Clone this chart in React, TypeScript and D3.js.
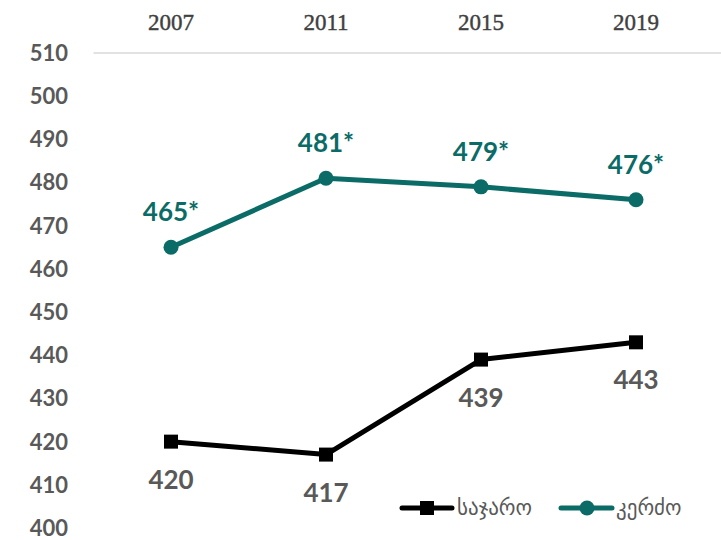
import React from "react";
import * as d3 from "d3";

const years = ["2007", "2011", "2015", "2019"];
const publicScores = [420, 417, 439, 443];
const privateScores = [465, 481, 479, 476];
const privateLabels = ["465*", "481*", "479*", "476*"];
const publicLabels = ["420", "417", "439", "443"];
const yTicks = [400, 410, 420, 430, 440, 450, 460, 470, 480, 490, 500, 510];
const seriesNames = ["საჯარო", "კერძო"];

const W = 721, H = 540;
const TEAL = "#0b6b67";
const GREY = "#595959";

export default function App() {
  const x = d3.scaleBand<string>().domain(years).range([93.5, 713.5]);
  const y = d3.scaleLinear().domain([400, 510]).range([528, 53]);
  const cx = (d: string) => (x(d) as number) + x.bandwidth() / 2;
  const line = d3.line<number>().x((_, i) => cx(years[i])).y((v) => y(v));

  return (
    <svg width={W} height={H} style={{ position: "absolute", left: 0, top: 0 }}>
      <rect width={W} height={H} fill="#fff" />
      <line x1={93.5} x2={721} y1={y(510)} y2={y(510)} stroke="#d9d9d9" strokeWidth={1.5} />
      {yTicks.map((t) => (
        <text key={t} x={68} y={y(t)} dy="0.36em" textAnchor="end" fill={GREY}
          fontFamily="Lato, 'Open Sans', sans-serif" fontWeight={700} fontSize={22}>{t}</text>
      ))}
      {years.map((yr) => (
        <text key={yr} x={cx(yr)} y={30} textAnchor="middle" fill="#404040"
          fontFamily="'Liberation Serif', serif" fontSize={23} stroke="#404040" strokeWidth={0.4}>{yr}</text>
      ))}
      <path d={line(publicScores) || ""} fill="none" stroke="#000" strokeWidth={5} strokeLinejoin="round" strokeLinecap="round" />
      <path d={line(privateScores) || ""} fill="none" stroke={TEAL} strokeWidth={5} strokeLinejoin="round" strokeLinecap="round" />
      {publicScores.map((v, i) => (
        <rect key={i} x={cx(years[i]) - 7} y={y(v) - 7} width={14} height={14} fill="#000" />
      ))}
      {privateScores.map((v, i) => (
        <circle key={i} cx={cx(years[i])} cy={y(v)} r={7.5} fill={TEAL} />
      ))}
      {privateScores.map((v, i) => (
        <text key={i} x={cx(years[i])} y={y(v) - 26} textAnchor="middle" fill={TEAL}
          fontFamily="Lato, 'Open Sans', sans-serif" fontWeight={700} fontSize={26}>{privateLabels[i]}</text>
      ))}
      {publicScores.map((v, i) => (
        <text key={i} x={cx(years[i])} y={y(v) + 47} textAnchor="middle" fill={GREY}
          fontFamily="Lato, 'Open Sans', sans-serif" fontWeight={700} fontSize={26}>{publicLabels[i]}</text>
      ))}
      <g>
        <line x1={402} x2={452} y1={508} y2={508} stroke="#000" strokeWidth={5} strokeLinecap="round" />
        <rect x={420} y={501} width={14} height={14} fill="#000" />
        <text x={457} y={515} fill={GREY} fontFamily="'DejaVu Sans', sans-serif" fontSize={21}>{seriesNames[0]}</text>
        <line x1={561} x2={612} y1={508} y2={508} stroke={TEAL} strokeWidth={5} strokeLinecap="round" />
        <circle cx={587} cy={508} r={7.5} fill={TEAL} />
        <text x={616} y={515} fill={GREY} fontFamily="'DejaVu Sans', sans-serif" fontSize={21}>{seriesNames[1]}</text>
      </g>
    </svg>
  );
}
